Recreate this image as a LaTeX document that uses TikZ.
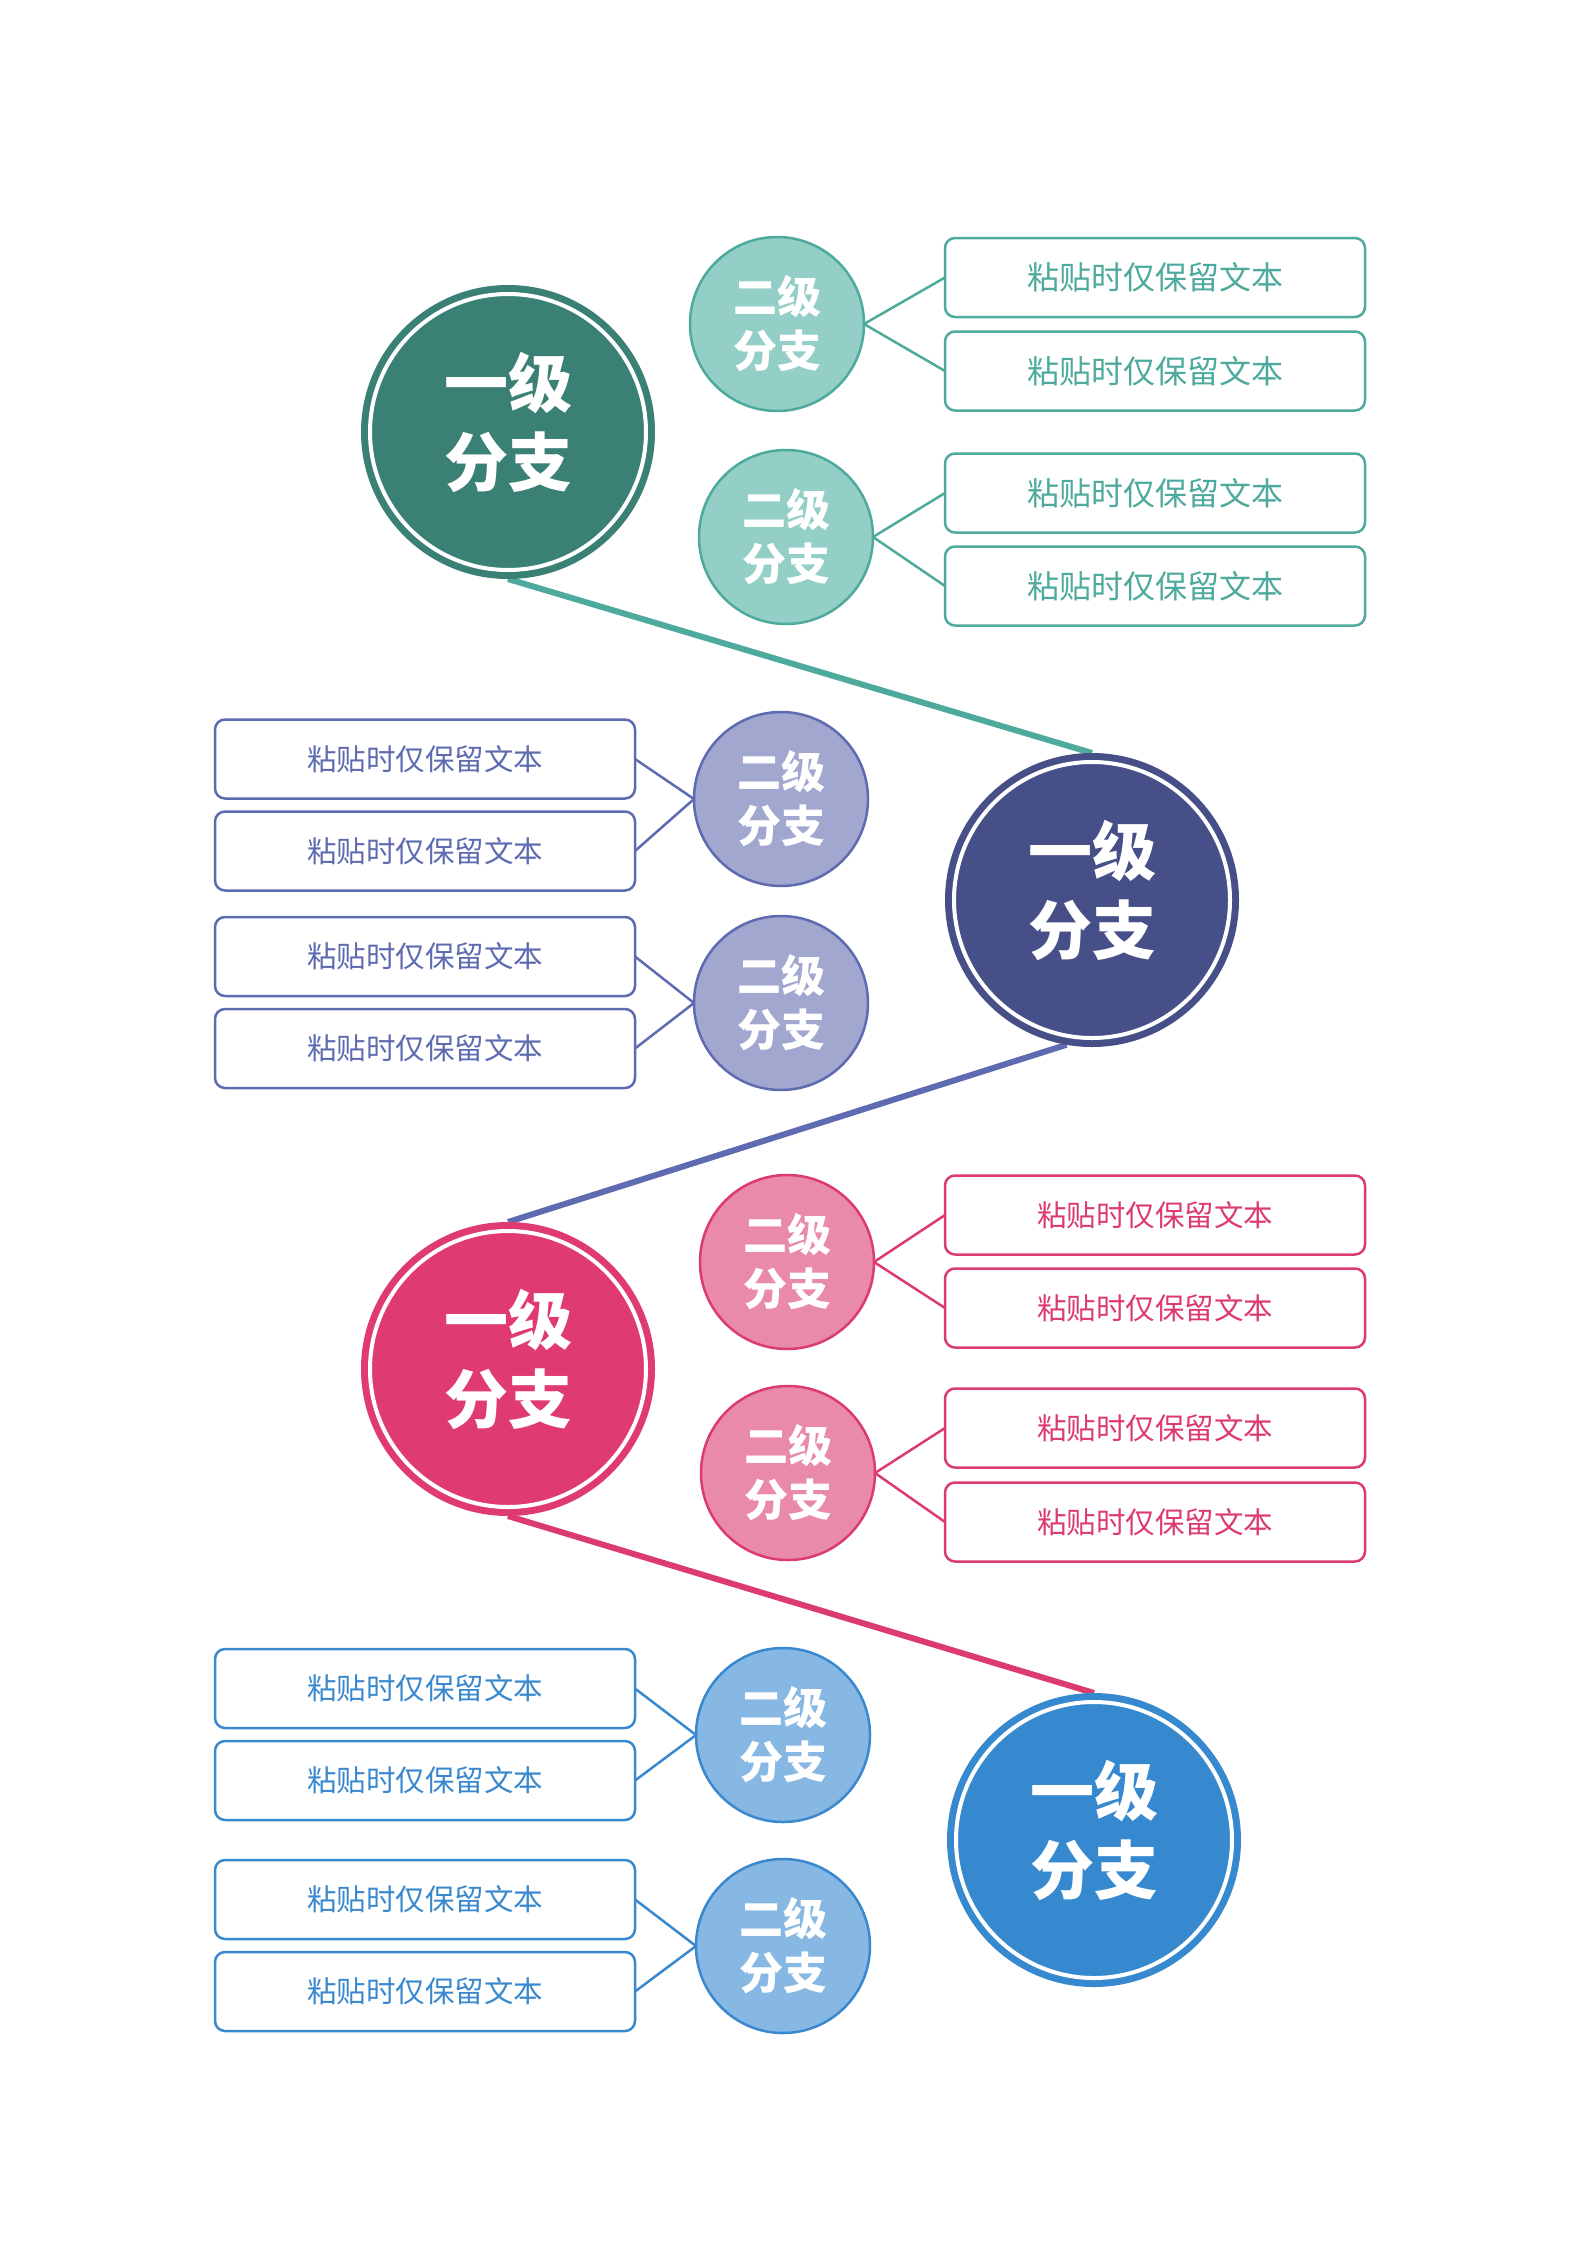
\documentclass[tikz,border=0pt]{standalone}
\usepackage{fontspec}
\newfontfamily\cjk{Noto Sans CJK SC}
\usetikzlibrary{backgrounds}
\pgfdeclarelayer{paper}
\pgfsetlayers{paper,background,main}
\definecolor{tealD}{HTML}{3A8075}
\definecolor{tealM}{HTML}{4DAA9D}
\definecolor{tealL}{HTML}{93CEC7}
\definecolor{navyD}{HTML}{464F87}
\definecolor{navyM}{HTML}{5F6BB0}
\definecolor{navyL}{HTML}{A1A7CF}
\definecolor{pinkD}{HTML}{DF3B71}
\definecolor{pinkM}{HTML}{DC3B70}
\definecolor{pinkL}{HTML}{E98BA8}
\definecolor{blueD}{HTML}{3689CF}
\definecolor{blueM}{HTML}{3A88CE}
\definecolor{blueL}{HTML}{87B7E3}
\tikzset{
  lone/.style={circle, inner sep=0pt, outer sep=0pt, minimum size=294pt},
  lonetext/.style={inner sep=0pt, text=white, align=center,
    font=\cjk\bfseries\fontsize{64}{79}\selectfont},
  ltwo/.style={circle, inner sep=0pt, outer sep=0pt, minimum size=174pt, line width=2.5pt, text=white, align=center,
    font=\cjk\bfseries\fontsize{44}{54}\selectfont},
  leaf/.style={rectangle, rounded corners=10pt, minimum width=420pt, minimum height=79pt, line width=2.5pt,
    fill=white, inner sep=0pt, outer sep=0pt, font=\cjk\fontsize{29.5}{36}\selectfont},
  bigleaf/.style={leaf, font=\cjk\fontsize{32}{38}\selectfont},
  ring/.style={white, line width=4pt},
  trunk/.style={line width=6pt},
  twig/.style={line width=2.5pt},
}
\begin{document}
\begin{tikzpicture}[x=1pt,y=-1pt]
\begin{pgfonlayer}{paper}
\fill[white] (0,0) rectangle (1587,2245);
\end{pgfonlayer}
\useasboundingbox (0,0) rectangle (1587,2245);

% ---------- group A (teal) ----------
\node[lone, fill=tealD] (A) at (508,432) {};
\draw[ring] (A.center) circle (138);
\node[lonetext] (At) at ([yshift=10pt]A.center) {一级\\分支};
\node[ltwo, fill=tealL, draw=tealM] (A1) at (777,324) {二级\\分支};
\node[ltwo, fill=tealL, draw=tealM] (A2) at (786,537) {二级\\分支};
\node[bigleaf, draw=tealM, text=tealM] (A1a) at (1155,277.5) {粘贴时仅保留文本};
\node[bigleaf, draw=tealM, text=tealM] (A1b) at (1155,371) {粘贴时仅保留文本};
\node[bigleaf, draw=tealM, text=tealM] (A2a) at (1155,493) {粘贴时仅保留文本};
\node[bigleaf, draw=tealM, text=tealM] (A2b) at (1155,586) {粘贴时仅保留文本};

% ---------- group B (navy) ----------
\node[lone, fill=navyD] (B) at (1092,900) {};
\draw[ring] (B.center) circle (138);
\node[lonetext] (Bt) at ([yshift=10pt]B.center) {一级\\分支};
\node[ltwo, fill=navyL, draw=navyM] (B1) at (781,799) {二级\\分支};
\node[ltwo, fill=navyL, draw=navyM] (B2) at (781,1003) {二级\\分支};
\node[leaf, draw=navyM, text=navyM] (B1a) at (425,759) {粘贴时仅保留文本};
\node[leaf, draw=navyM, text=navyM] (B1b) at (425,851) {粘贴时仅保留文本};
\node[leaf, draw=navyM, text=navyM] (B2a) at (425,956.5) {粘贴时仅保留文本};
\node[leaf, draw=navyM, text=navyM] (B2b) at (425,1048.5) {粘贴时仅保留文本};

% ---------- group C (pink) ----------
\node[lone, fill=pinkD] (C) at (508,1369) {};
\draw[ring] (C.center) circle (138);
\node[lonetext] (Ct) at ([yshift=10pt]C.center) {一级\\分支};
\node[ltwo, fill=pinkL, draw=pinkM] (C1) at (787,1262) {二级\\分支};
\node[ltwo, fill=pinkL, draw=pinkM] (C2) at (788,1473) {二级\\分支};
\node[leaf, draw=pinkM, text=pinkM] (C1a) at (1155,1215) {粘贴时仅保留文本};
\node[leaf, draw=pinkM, text=pinkM] (C1b) at (1155,1308) {粘贴时仅保留文本};
\node[leaf, draw=pinkM, text=pinkM] (C2a) at (1155,1428) {粘贴时仅保留文本};
\node[leaf, draw=pinkM, text=pinkM] (C2b) at (1155,1522) {粘贴时仅保留文本};

% ---------- group D (blue) ----------
\node[lone, fill=blueD] (D) at (1094,1840) {};
\draw[ring] (D.center) circle (138);
\node[lonetext] (Dt) at ([yshift=10pt]D.center) {一级\\分支};
\node[ltwo, fill=blueL, draw=blueM] (D1) at (783,1735) {二级\\分支};
\node[ltwo, fill=blueL, draw=blueM] (D2) at (783,1946) {二级\\分支};
\node[leaf, draw=blueM, text=blueM] (D1a) at (425,1688.5) {粘贴时仅保留文本};
\node[leaf, draw=blueM, text=blueM] (D1b) at (425,1780.5) {粘贴时仅保留文本};
\node[leaf, draw=blueM, text=blueM] (D2a) at (425,1899.5) {粘贴时仅保留文本};
\node[leaf, draw=blueM, text=blueM] (D2b) at (425,1991.5) {粘贴时仅保留文本};

% ---------- connectors ----------
\begin{pgfonlayer}{background}
\draw[trunk, tealM] (A.south) -- (B.north);
\draw[trunk, navyM] (B.260) -- (C.north);
\draw[trunk, pinkM] (C.south) -- (D.north);

\draw[twig, tealM] (A1.east) -- (A1a.west);
\draw[twig, tealM] (A1.east) -- (A1b.west);
\draw[twig, tealM] (A2.east) -- (A2a.west);
\draw[twig, tealM] (A2.east) -- (A2b.west);

\draw[twig, navyM] (B1.west) -- (B1a.east);
\draw[twig, navyM] (B1.west) -- (B1b.east);
\draw[twig, navyM] (B2.west) -- (B2a.east);
\draw[twig, navyM] (B2.west) -- (B2b.east);

\draw[twig, pinkM] (C1.east) -- (C1a.west);
\draw[twig, pinkM] (C1.east) -- (C1b.west);
\draw[twig, pinkM] (C2.east) -- (C2a.west);
\draw[twig, pinkM] (C2.east) -- (C2b.west);

\draw[twig, blueM] (D1.west) -- (D1a.east);
\draw[twig, blueM] (D1.west) -- (D1b.east);
\draw[twig, blueM] (D2.west) -- (D2a.east);
\draw[twig, blueM] (D2.west) -- (D2b.east);
\end{pgfonlayer}
\end{tikzpicture}
\end{document}
